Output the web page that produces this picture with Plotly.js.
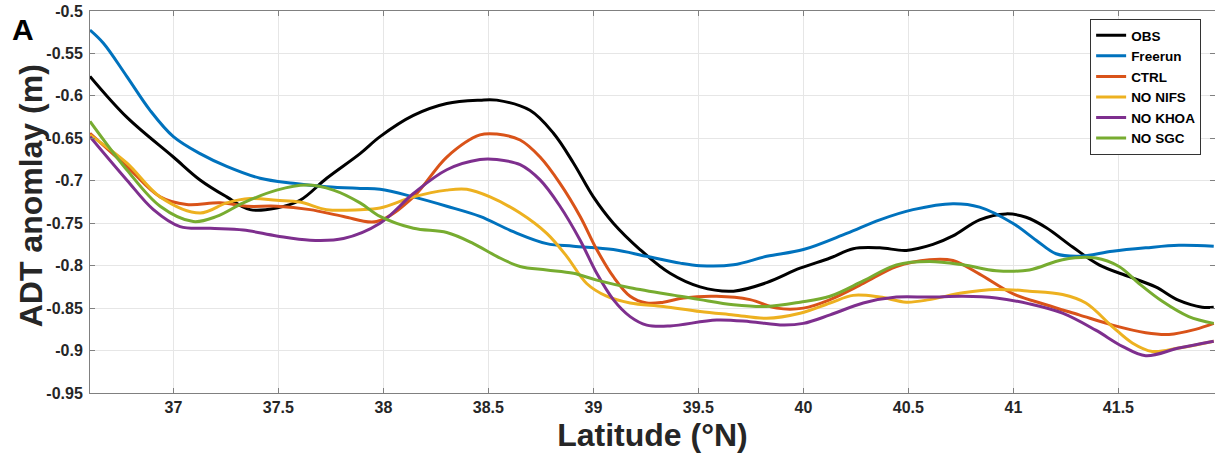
<!DOCTYPE html>
<html>
<head>
<meta charset="utf-8">
<script src="https://cdn.plot.ly/plotly-3.0.1.min.js"></script>
<style>html,body{margin:0;padding:0;background:#fff;}#chart{width:1215px;height:462px;}</style>
</head>
<body>
<div id="chart"></div>
<script>
const seriesNames = ["OBS", "Freerun", "CTRL", "NO NIFS", "NO KHOA", "NO SGC"];
const seriesColors = ["#000000", "#0072BD", "#D95319", "#EDB120", "#7E2F8E", "#77AC30"];

const obsLat = [36.603,36.778,37.0,37.127,37.254,37.365,37.492,37.603,37.73,37.889,37.984,38.143,38.302,38.46,38.54,38.698,38.81,38.905,39.0,39.095,39.222,39.365,39.508,39.667,39.825,39.984,40.127,40.237,40.364,40.49,40.617,40.712,40.839,40.965,41.06,41.155,41.282,41.408,41.551,41.677,41.788,41.899,41.954];
const obsAdt = [-0.577,-0.625,-0.672,-0.699,-0.719,-0.734,-0.732,-0.723,-0.697,-0.668,-0.648,-0.623,-0.609,-0.605,-0.605,-0.617,-0.644,-0.679,-0.719,-0.750,-0.781,-0.809,-0.825,-0.830,-0.820,-0.803,-0.791,-0.780,-0.779,-0.782,-0.775,-0.765,-0.746,-0.739,-0.743,-0.755,-0.778,-0.799,-0.813,-0.825,-0.841,-0.849,-0.849];

const freeLat = [36.603,36.667,36.778,36.889,37.0,37.127,37.254,37.413,37.571,37.73,37.889,37.984,38.143,38.302,38.46,38.619,38.778,38.905,39.095,39.254,39.413,39.508,39.667,39.825,40.0,40.206,40.364,40.522,40.712,40.839,40.997,41.108,41.203,41.313,41.472,41.63,41.788,41.954];
const freeAdt = [-0.5225,-0.538,-0.577,-0.617,-0.648,-0.668,-0.683,-0.697,-0.703,-0.707,-0.709,-0.710,-0.719,-0.730,-0.742,-0.760,-0.774,-0.777,-0.781,-0.789,-0.797,-0.800,-0.799,-0.789,-0.781,-0.762,-0.746,-0.734,-0.727,-0.731,-0.750,-0.770,-0.786,-0.789,-0.783,-0.779,-0.776,-0.777];

const ctrlLat = [36.603,36.778,36.937,37.063,37.222,37.349,37.492,37.651,37.81,37.968,38.143,38.302,38.46,38.54,38.651,38.746,38.841,38.937,39.016,39.095,39.175,39.254,39.333,39.429,39.587,39.746,39.873,40.0,40.127,40.285,40.443,40.601,40.712,40.839,40.997,41.155,41.313,41.472,41.63,41.741,41.867,41.954];
const ctrlAdt = [-0.644,-0.683,-0.719,-0.728,-0.726,-0.730,-0.730,-0.734,-0.742,-0.748,-0.719,-0.672,-0.646,-0.645,-0.652,-0.672,-0.703,-0.742,-0.781,-0.813,-0.836,-0.844,-0.843,-0.838,-0.836,-0.840,-0.850,-0.850,-0.840,-0.821,-0.801,-0.793,-0.794,-0.810,-0.833,-0.846,-0.858,-0.870,-0.879,-0.881,-0.875,-0.868];

const nifsLat = [36.603,36.778,36.937,37.127,37.254,37.365,37.492,37.603,37.73,37.889,37.984,38.143,38.302,38.397,38.508,38.651,38.778,38.873,38.968,39.063,39.175,39.333,39.508,39.667,39.825,39.984,40.127,40.237,40.364,40.49,40.601,40.76,40.918,41.076,41.234,41.345,41.472,41.566,41.661,41.788,41.954];
const nifsAdt = [-0.646,-0.679,-0.719,-0.738,-0.726,-0.721,-0.723,-0.725,-0.734,-0.734,-0.732,-0.719,-0.711,-0.710,-0.719,-0.738,-0.762,-0.789,-0.821,-0.836,-0.844,-0.848,-0.854,-0.858,-0.862,-0.856,-0.844,-0.835,-0.837,-0.843,-0.840,-0.832,-0.828,-0.830,-0.834,-0.844,-0.872,-0.891,-0.901,-0.897,-0.889];

const khoaLat = [36.603,36.778,36.905,37.032,37.175,37.333,37.492,37.651,37.81,37.984,38.143,38.302,38.46,38.54,38.651,38.746,38.841,38.937,39.016,39.095,39.175,39.254,39.365,39.587,39.746,39.905,40.0,40.127,40.285,40.443,40.601,40.76,40.918,41.076,41.234,41.392,41.519,41.63,41.788,41.954];
const khoaAdt = [-0.648,-0.699,-0.734,-0.754,-0.756,-0.758,-0.765,-0.770,-0.768,-0.750,-0.715,-0.687,-0.675,-0.675,-0.681,-0.699,-0.730,-0.770,-0.809,-0.840,-0.860,-0.870,-0.871,-0.864,-0.866,-0.870,-0.868,-0.858,-0.844,-0.837,-0.837,-0.836,-0.838,-0.845,-0.856,-0.876,-0.895,-0.906,-0.897,-0.889];

const sgcLat = [36.603,36.778,36.937,37.095,37.206,37.333,37.492,37.635,37.762,37.889,37.984,38.143,38.302,38.429,38.54,38.651,38.778,38.905,39.016,39.175,39.413,39.508,39.667,39.825,39.984,40.127,40.285,40.443,40.601,40.76,40.918,41.076,41.234,41.392,41.503,41.598,41.709,41.835,41.954];
const sgcAdt = [-0.630,-0.687,-0.730,-0.748,-0.742,-0.726,-0.711,-0.705,-0.711,-0.726,-0.742,-0.756,-0.761,-0.774,-0.789,-0.801,-0.805,-0.809,-0.817,-0.826,-0.836,-0.840,-0.846,-0.848,-0.843,-0.836,-0.818,-0.799,-0.795,-0.799,-0.806,-0.805,-0.793,-0.791,-0.801,-0.821,-0.842,-0.860,-0.868];

const xTicks = [37, 37.5, 38, 38.5, 39, 39.5, 40, 40.5, 41, 41.5];
const xTickText = ["37", "37.5", "38", "38.5", "39", "39.5", "40", "40.5", "41", "41.5"];
const yTicks = [-0.95, -0.9, -0.85, -0.8, -0.75, -0.7, -0.65, -0.6, -0.55, -0.5];
const yTickText = ["-0.95", "-0.9", "-0.85", "-0.8", "-0.75", "-0.7", "-0.65", "-0.6", "-0.55", "-0.5"];

const xs = [obsLat, freeLat, ctrlLat, nifsLat, khoaLat, sgcLat];
const ys = [obsAdt, freeAdt, ctrlAdt, nifsAdt, khoaAdt, sgcAdt];

const traces = seriesNames.map((n, i) => ({
  x: xs[i], y: ys[i], name: n, type: 'scatter', mode: 'lines',
  line: {color: seriesColors[i], width: 3, shape: 'spline', smoothing: 1}
}));

const FONT = 'Liberation Sans, Arial, Helvetica, sans-serif';
const layout = {
  width: 1215, height: 462,
  margin: {l: 90, r: 0, t: 11, b: 68.5},
  paper_bgcolor: '#fff', plot_bgcolor: '#fff',
  font: {family: FONT, color: '#262626'},
  xaxis: {
    range: [36.603, 41.96], tickvals: xTicks, ticktext: xTickText,
    showgrid: true, gridcolor: '#e6e6e6', gridwidth: 1,
    showline: true, linecolor: '#808080', linewidth: 1, mirror: 'ticks',
    ticks: 'inside', ticklen: 5, tickcolor: '#808080',
    tickfont: {family: FONT, size: 16, color: '#262626', weight: 'bold'},
    zeroline: false,
    title: {text: 'Latitude (°N)', font: {family: FONT, size: 32, color: '#262626', weight: 'bold'}, standoff: 8}
  },
  yaxis: {
    range: [-0.95, -0.5], tickvals: yTicks, ticktext: yTickText,
    showgrid: true, gridcolor: '#e6e6e6', gridwidth: 1,
    showline: true, linecolor: '#808080', linewidth: 1, mirror: 'ticks',
    ticks: 'inside', ticklen: 5, tickcolor: '#808080',
    tickfont: {family: FONT, size: 16, color: '#262626', weight: 'bold'},
    ticklabelstandoff: 3,
    zeroline: false
  },
  showlegend: true,
  legend: {
    x: 0.889, y: 0.979, xanchor: 'left', yanchor: 'top',
    bgcolor: '#fff', bordercolor: '#333', borderwidth: 1,
    font: {family: FONT, size: 13.5, color: '#000', weight: 'bold'},
    tracegroupgap: 0, itemwidth: 30
  },
  annotations: [{
    text: 'A', xref: 'paper', yref: 'paper', x: -0.0715, y: 1.0, xanchor: 'left', yanchor: 'top',
    showarrow: false, font: {family: FONT, size: 30, color: '#000', weight: 'bold'}
  }, {
    text: 'ADT anomlay (m)', xref: 'paper', yref: 'paper', x: -0.0524, y: 0.515,
    xanchor: 'center', yanchor: 'middle', textangle: -90, showarrow: false,
    font: {family: FONT, size: 32, color: '#262626', weight: 'bold'}
  }]
};

Plotly.newPlot('chart', traces, layout, {displayModeBar: false, staticPlot: true});
</script>
</body>
</html>
